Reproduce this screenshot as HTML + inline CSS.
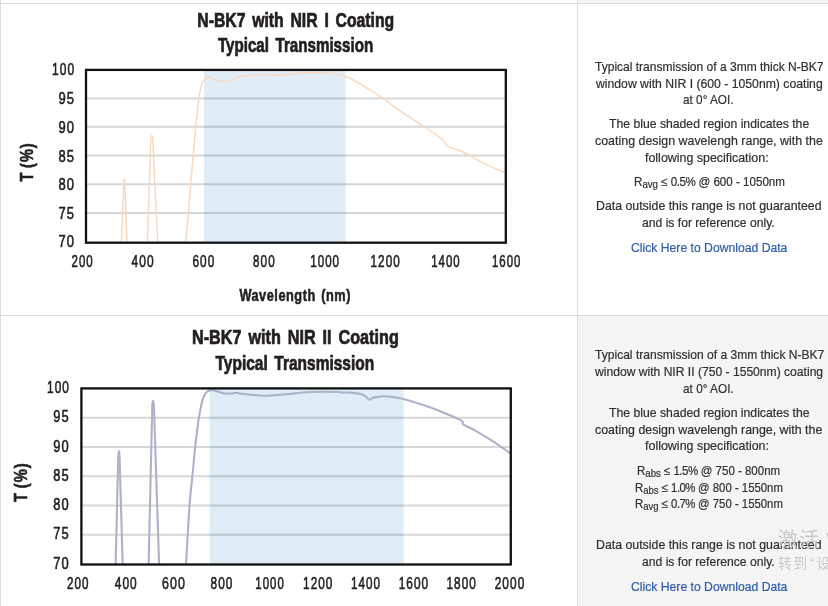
<!DOCTYPE html>
<html lang="en"><head><meta charset="utf-8"><title>N-BK7 NIR Coating Transmission</title>
<style>
html,body{margin:0;padding:0}
body{width:828px;height:606px;overflow:hidden;background:#fff;position:relative;font-family:"Liberation Sans","Noto Sans CJK SC",sans-serif}
.b{position:absolute;background:#dcdcdc}
.bg{position:absolute;background:#f5f5f5}
svg{position:absolute;left:0;top:0}
svg text{font-family:"Liberation Sans",sans-serif;fill:#231f20}
.tk{letter-spacing:1.5px;font-size:16.6px;stroke:#231f20;stroke-width:0.6px}
.tt{font-size:19.8px;font-weight:bold;word-spacing:3px;stroke:#231f20;stroke-width:0.7px}
.ax{font-size:18.2px;font-weight:bold;word-spacing:2px;stroke:#231f20;stroke-width:0.6px}
.axW{font-size:17.3px;letter-spacing:0.7px}
.axT{word-spacing:-1.5px;letter-spacing:1.2px}
.cell{position:absolute;left:0;top:0;width:0;height:0}
.ln{position:absolute;white-space:nowrap;font-size:12.2px;line-height:16px;color:#303030;transform-origin:0 0;-webkit-text-stroke:0.2px}
.ln sub{font-size:10.2px;vertical-align:baseline;position:relative;top:2px;line-height:0}
.n{letter-spacing:-0.55px}
.ln a{color:#2d5cab;text-decoration:none}
.wm{position:absolute;white-space:nowrap;color:#c9c9c9;font-family:"Liberation Sans","Noto Sans CJK SC",sans-serif}
</style></head><body>
<div class="bg" style="left:578px;top:0;width:250px;height:3px"></div>
<div class="bg" style="left:578px;top:316px;width:250px;height:290px"></div>
<div class="b" style="left:0;top:3px;width:828px;height:1px"></div>
<div class="b" style="left:0;top:315px;width:828px;height:1px"></div>
<div class="b" style="left:0;top:0;width:1px;height:606px"></div>
<div class="b" style="left:577px;top:0;width:1px;height:606px"></div>
<svg width="578" height="606" viewBox="0 0 578 606">
<defs><clipPath id="aclip"><rect x="86" y="69.9" width="419.8" height="172.8"/></clipPath><clipPath id="bclip"><rect x="81.4" y="388.4" width="429.4" height="176.1"/></clipPath></defs>
<rect x="204" y="69.9" width="141.7" height="172.1" fill="#e0ecf6"/>
<line x1="86" x2="505.8" y1="98.6" y2="98.6" stroke="rgba(0,0,0,0.155)" stroke-width="2.0"/>
<line x1="86" x2="505.8" y1="126.7" y2="126.7" stroke="rgba(0,0,0,0.155)" stroke-width="2.0"/>
<line x1="86" x2="505.8" y1="155.4" y2="155.4" stroke="rgba(0,0,0,0.155)" stroke-width="2.0"/>
<line x1="86" x2="505.8" y1="184.3" y2="184.3" stroke="rgba(0,0,0,0.155)" stroke-width="2.0"/>
<line x1="86" x2="505.8" y1="213.0" y2="213.0" stroke="rgba(0,0,0,0.155)" stroke-width="2.0"/>
<g clip-path="url(#aclip)" fill="none" stroke="#fad8bd" stroke-width="1.45" stroke-linejoin="round">
<path d="M121.4 243 L123.8 181 Q124.3 176.5 124.8 181 L127 243"/>
<path d="M147.4 243 L150.8 139 Q151.8 131.5 152.8 139 L157.7 243"/>
<path d="M185.6 243.0C186.1 238.0 187.5 222.8 188.4 213.0C189.3 203.2 190.0 193.9 190.8 184.3C191.6 174.7 192.4 164.9 193.2 155.3C194.0 145.7 194.9 136.1 195.8 126.6C196.7 117.1 197.9 105.3 198.8 98.6C199.7 91.9 200.4 89.7 201.3 86.5C202.2 83.3 203.1 81.1 204.2 79.6C205.3 78.0 206.5 77.4 207.8 77.2C209.1 77.0 210.3 78.0 212.0 78.6C213.7 79.2 216.1 80.5 218.0 81.0C219.9 81.5 221.5 81.9 223.5 81.8C225.5 81.7 227.8 81.3 230.0 80.6C232.2 79.9 234.5 78.6 237.0 77.8C239.5 77.0 241.8 76.3 245.0 75.8C248.2 75.3 252.3 75.2 256.0 75.0C259.7 74.8 262.7 74.8 267.0 74.8C271.3 74.8 277.2 75.4 282.0 75.2C286.8 75.0 291.3 73.8 296.0 73.4C300.7 73.0 305.7 72.7 310.0 72.6C314.3 72.5 318.3 72.5 322.0 72.6C325.7 72.7 329.0 73.0 332.0 73.4C335.0 73.8 337.7 74.5 340.0 75.0C342.3 75.5 343.1 75.5 345.6 76.5C348.1 77.5 351.9 79.1 355.0 80.8C358.1 82.5 359.6 83.4 364.4 86.4C369.2 89.4 377.4 94.5 383.9 99.0C390.4 103.5 396.7 108.6 403.4 113.2C410.1 117.8 418.2 122.5 424.1 126.5C430.0 130.4 435.7 134.4 439.0 136.9C442.3 139.4 442.6 139.9 444.0 141.5C445.4 143.1 446.4 145.2 447.7 146.3C449.0 147.4 450.2 147.4 452.0 148.0C453.8 148.6 455.9 148.9 458.5 150.0C461.1 151.1 463.1 152.1 467.7 154.5C472.3 156.9 479.9 161.4 486.0 164.4C492.1 167.4 500.7 170.8 504.4 172.4C508.1 174.0 507.4 173.7 508.0 174.0"/>
</g>
<rect x="86" y="69.9" width="419.8" height="172.8" fill="none" stroke="#111" stroke-width="2.3"/>
<text class="tk" x="52.0" y="75.0" textLength="23.2" lengthAdjust="spacingAndGlyphs">100</text>
<text class="tk" x="58.4" y="104.0" textLength="16.8" lengthAdjust="spacingAndGlyphs">95</text>
<text class="tk" x="58.4" y="132.7" textLength="16.8" lengthAdjust="spacingAndGlyphs">90</text>
<text class="tk" x="58.4" y="161.5" textLength="16.8" lengthAdjust="spacingAndGlyphs">85</text>
<text class="tk" x="58.4" y="189.9" textLength="16.8" lengthAdjust="spacingAndGlyphs">80</text>
<text class="tk" x="58.4" y="218.6" textLength="16.8" lengthAdjust="spacingAndGlyphs">75</text>
<text class="tk" x="58.4" y="247.0" textLength="16.8" lengthAdjust="spacingAndGlyphs">70</text>
<text class="tk" x="71.5" y="266.9" textLength="22.3" lengthAdjust="spacingAndGlyphs">200</text>
<text class="tk" x="131.6" y="266.9" textLength="23.2" lengthAdjust="spacingAndGlyphs">400</text>
<text class="tk" x="192.4" y="266.9" textLength="22.9" lengthAdjust="spacingAndGlyphs">600</text>
<text class="tk" x="253.0" y="266.9" textLength="22.7" lengthAdjust="spacingAndGlyphs">800</text>
<text class="tk" x="310.2" y="266.9" textLength="29.9" lengthAdjust="spacingAndGlyphs">1000</text>
<text class="tk" x="370.5" y="266.9" textLength="30.3" lengthAdjust="spacingAndGlyphs">1200</text>
<text class="tk" x="431.2" y="266.9" textLength="29.5" lengthAdjust="spacingAndGlyphs">1400</text>
<text class="tk" x="492.0" y="266.9" textLength="29.5" lengthAdjust="spacingAndGlyphs">1600</text>
<text class="tt" x="197.3" y="26.9" textLength="196.9" lengthAdjust="spacingAndGlyphs">N-BK7 with NIR I Coating</text>
<text class="tt" x="217.9" y="52.4" textLength="155.3" lengthAdjust="spacingAndGlyphs">Typical Transmission</text>
<text class="ax axW" x="239.4" y="300.5" textLength="111.6" lengthAdjust="spacingAndGlyphs">Wavelength (nm)</text>
<text class="ax axT" transform="translate(32.9 181.6) rotate(-90)" x="0" y="0" textLength="39.3" lengthAdjust="spacingAndGlyphs">T (%)</text>
<rect x="209.7" y="388.4" width="194.0" height="175.6" fill="#e0ecf6"/>
<line x1="81.4" x2="510.8" y1="417.65" y2="417.65" stroke="rgba(0,0,0,0.155)" stroke-width="2.0"/>
<line x1="81.4" x2="510.8" y1="446.9" y2="446.9" stroke="rgba(0,0,0,0.155)" stroke-width="2.0"/>
<line x1="81.4" x2="510.8" y1="476.15" y2="476.15" stroke="rgba(0,0,0,0.155)" stroke-width="2.0"/>
<line x1="81.4" x2="510.8" y1="505.4" y2="505.4" stroke="rgba(0,0,0,0.155)" stroke-width="2.0"/>
<line x1="81.4" x2="510.8" y1="534.65" y2="534.65" stroke="rgba(0,0,0,0.155)" stroke-width="2.0"/>
<g clip-path="url(#bclip)" fill="none" stroke="#adb2c9" stroke-width="2.1" stroke-linejoin="round">
<path d="M115.6 565 L118.3 455 Q118.9 447 119.5 455 L122.7 565"/>
<path d="M148.6 565 L152.3 405 Q153.1 396.5 153.9 405 L159.1 565"/>
<path d="M186.0 565.0C186.6 555.1 188.4 520.7 189.5 505.5C190.6 490.3 191.6 484.5 192.6 474.0C193.6 463.5 194.6 452.1 195.7 442.7C196.8 433.3 197.8 424.4 198.9 417.6C200.0 410.8 201.1 405.8 202.0 402.0C202.9 398.2 203.5 396.8 204.5 395.0C205.5 393.2 206.6 391.8 208.0 391.0C209.4 390.2 211.1 390.1 212.8 390.2C214.5 390.3 216.0 391.1 218.0 391.6C220.0 392.2 222.3 393.2 224.8 393.5C227.3 393.8 231.2 393.5 233.0 393.4C234.8 393.3 234.3 392.8 235.5 392.8C236.7 392.8 237.6 393.2 240.0 393.5C242.4 393.8 246.0 394.2 250.0 394.6C254.0 395.0 259.7 395.6 263.9 395.7C268.1 395.8 271.0 395.5 275.0 395.2C279.0 394.9 283.6 394.5 287.8 394.1C292.0 393.7 296.0 393.2 300.0 392.8C304.0 392.4 307.5 392.2 311.7 392.0C315.9 391.8 320.6 391.8 325.0 391.8C329.4 391.8 334.9 391.9 337.8 392.0C340.7 392.1 340.0 392.5 342.2 392.6C344.4 392.7 347.6 392.3 350.9 392.6C354.1 392.9 359.3 393.7 361.7 394.3C364.1 394.9 364.2 395.6 365.5 396.5C366.8 397.4 368.2 399.3 369.3 399.6C370.4 399.9 371.1 398.7 372.0 398.3C372.9 397.9 372.9 397.7 374.8 397.4C376.7 397.1 380.2 396.3 383.5 396.3C386.8 396.3 390.9 396.9 394.3 397.4C397.7 397.9 400.1 398.2 403.7 399.1C407.3 400.0 411.5 401.4 416.1 402.8C420.7 404.2 426.6 406.1 431.3 407.8C436.0 409.5 439.6 411.0 444.3 413.0C449.0 415.0 456.5 418.1 459.6 419.6C462.7 421.1 462.2 421.2 462.8 422.0C463.4 422.8 461.5 423.2 463.5 424.6C465.5 426.0 470.0 427.7 474.8 430.4C479.6 433.1 486.4 437.2 492.2 440.9C498.0 444.6 506.1 450.4 509.6 452.8C513.1 455.2 512.4 454.6 513.0 455.0"/>
</g>
<rect x="81.4" y="388.4" width="429.4" height="176.1" fill="none" stroke="#111" stroke-width="2.3"/>
<text class="tk" x="47.0" y="393.2" textLength="22.9" lengthAdjust="spacingAndGlyphs">100</text>
<text class="tk" x="53.2" y="422.4" textLength="16.7" lengthAdjust="spacingAndGlyphs">95</text>
<text class="tk" x="53.2" y="451.6" textLength="16.7" lengthAdjust="spacingAndGlyphs">90</text>
<text class="tk" x="53.2" y="480.8" textLength="16.7" lengthAdjust="spacingAndGlyphs">85</text>
<text class="tk" x="53.2" y="510.0" textLength="16.7" lengthAdjust="spacingAndGlyphs">80</text>
<text class="tk" x="53.2" y="539.3" textLength="16.7" lengthAdjust="spacingAndGlyphs">75</text>
<text class="tk" x="53.2" y="568.5" textLength="16.7" lengthAdjust="spacingAndGlyphs">70</text>
<text class="tk" x="66.9" y="589.3" textLength="22.5" lengthAdjust="spacingAndGlyphs">200</text>
<text class="tk" x="114.7" y="589.3" textLength="23.1" lengthAdjust="spacingAndGlyphs">400</text>
<text class="tk" x="162.1" y="589.3" textLength="24.0" lengthAdjust="spacingAndGlyphs">600</text>
<text class="tk" x="210.5" y="589.3" textLength="22.9" lengthAdjust="spacingAndGlyphs">800</text>
<text class="tk" x="255.3" y="589.3" textLength="29.5" lengthAdjust="spacingAndGlyphs">1000</text>
<text class="tk" x="303.1" y="589.3" textLength="30.3" lengthAdjust="spacingAndGlyphs">1200</text>
<text class="tk" x="350.9" y="589.3" textLength="30.1" lengthAdjust="spacingAndGlyphs">1400</text>
<text class="tk" x="398.7" y="589.3" textLength="30.5" lengthAdjust="spacingAndGlyphs">1600</text>
<text class="tk" x="446.5" y="589.3" textLength="30.5" lengthAdjust="spacingAndGlyphs">1800</text>
<text class="tk" x="494.7" y="589.3" textLength="30.7" lengthAdjust="spacingAndGlyphs">2000</text>
<text class="tt" x="192.0" y="343.9" textLength="206.8" lengthAdjust="spacingAndGlyphs">N-BK7 with NIR II Coating</text>
<text class="tt" x="215.5" y="369.6" textLength="158.7" lengthAdjust="spacingAndGlyphs">Typical Transmission</text>
<text class="ax axT" transform="translate(26.8 501.9) rotate(-90)" x="0" y="0" textLength="39.5" lengthAdjust="spacingAndGlyphs">T (%)</text>
</svg>
<div class="cell">
<div class="ln " style="left:595.3px;top:59.1px;transform:scaleX(0.9864)">Typical transmission of a 3mm thick N-BK7</div>
<div class="ln " style="left:595.6px;top:75.7px;transform:scaleX(1.0020)">window with NIR I (600 - 1050nm) coating</div>
<div class="ln " style="left:683.4px;top:92.2px;transform:scaleX(0.9656)">at 0° AOI.</div>
<div class="ln " style="left:609.2px;top:116.1px;transform:scaleX(1.0015)">The blue shaded region indicates the</div>
<div class="ln " style="left:594.8px;top:132.8px;transform:scaleX(1.0188)">coating design wavelengh range, with the</div>
<div class="ln " style="left:645.4px;top:149.8px;transform:scaleX(1.0193)">following specification:</div>
<div class="ln " style="left:633.6px;top:174.2px;transform:scaleX(0.9516)">R<sub>avg</sub> ≤ <span class=n>0.5%</span> @ 600 - 1050nm</div>
<div class="ln " style="left:596.2px;top:198.2px;transform:scaleX(1.0120)">Data outside this range is not guaranteed</div>
<div class="ln " style="left:642.0px;top:215.2px;transform:scaleX(0.9960)">and is for reference only.</div>
<div class="ln " style="left:630.6px;top:239.5px;transform:scaleX(0.9995)"><a href="#">Click Here to Download Data</a></div>
</div>
<div class="cell">
<div class="ln " style="left:594.9px;top:347.4px;transform:scaleX(0.9899)">Typical transmission of a 3mm thick N-BK7</div>
<div class="ln " style="left:594.9px;top:364.3px;transform:scaleX(0.9933)">window with NIR II (750 - 1550nm) coating</div>
<div class="ln " style="left:683.4px;top:381.3px;transform:scaleX(0.9695)">at 0° AOI.</div>
<div class="ln " style="left:608.8px;top:405.0px;transform:scaleX(1.0030)">The blue shaded region indicates the</div>
<div class="ln " style="left:594.9px;top:421.8px;transform:scaleX(1.0166)">coating design wavelengh range, with the</div>
<div class="ln " style="left:645.4px;top:438.4px;transform:scaleX(1.0225)">following specification:</div>
<div class="ln " style="left:637.4px;top:463.0px;transform:scaleX(0.9421)">R<sub>abs</sub> ≤ <span class=n>1.5%</span> @ 750 - 800nm</div>
<div class="ln " style="left:634.8px;top:479.8px;transform:scaleX(0.9321)">R<sub>abs</sub> ≤ <span class=n>1.0%</span> @ 800 - 1550nm</div>
<div class="ln " style="left:634.8px;top:496.4px;transform:scaleX(0.9321)">R<sub>avg</sub> ≤ <span class=n>0.7%</span> @ 750 - 1550nm</div>
<div class="ln " style="left:596.2px;top:537.2px;transform:scaleX(1.0120)">Data outside this range is not guaranteed</div>
<div class="ln " style="left:642.0px;top:554.2px;transform:scaleX(0.9960)">and is for reference only.</div>
<div class="ln " style="left:630.6px;top:578.5px;transform:scaleX(0.9995)"><a href="#">Click Here to Download Data</a></div>
</div>
<div class="wm" style="left:778px;top:529.7px;font-size:20px;line-height:20px;letter-spacing:0.9px">激活 Windows</div>
<div class="wm" style="left:778px;top:555.5px;font-size:14px;line-height:14px;letter-spacing:1.15px">转到<span style="margin:0 1.2px">“</span>设置<span style="margin:0 1.2px">”</span>以激活 Windows。</div>
</body></html>
